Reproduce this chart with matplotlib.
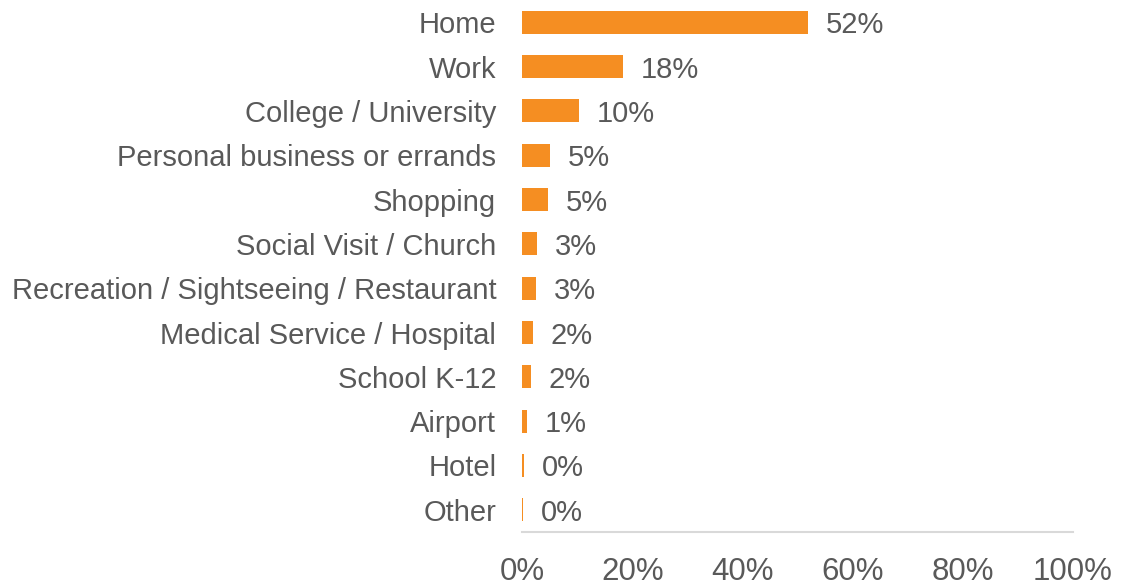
import matplotlib.pyplot as plt
from matplotlib.ticker import PercentFormatter

# trip destination shares (percent)
categories = ['Home', 'Work', 'College / University', 'Personal business or errands',
              'Shopping', 'Social Visit / Church', 'Recreation / Sightseeing / Restaurant',
              'Medical Service / Hospital', 'School K-12', 'Airport', 'Hotel', 'Other']
values = [51.9, 18.3, 10.3, 5.1, 4.7, 2.7, 2.6, 2.0, 1.6, 0.9, 0.4, 0.2]
labels = ['52%', '18%', '10%', '5%', '5%', '3%', '3%', '2%', '2%', '1%', '0%', '0%']

plt.rcParams['font.family'] = ['Liberation Sans', 'DejaVu Sans']
text_col = '#595959'
bar_col = '#F58E22'

fig = plt.figure(figsize=(11.23, 5.88), dpi=100)
ax = fig.add_axes([522 / 1123, 1 - 532 / 588, 551 / 1123, 532 / 588])

y = range(len(categories))
ax.barh(y, values, height=0.52, color=bar_col)
for yi, v, lab in zip(y, values, labels):
    ax.text(v + 3.2, yi, lab, va='center_baseline', ha='left', fontsize=21, color=text_col)

ax.set_xlim(0, 100)
ax.set_ylim(len(categories) - 0.5, -0.5)
ax.set_yticks(list(y))
ax.set_yticklabels(categories, va='center_baseline')
ax.set_xticks([0, 20, 40, 60, 80, 100])
ax.xaxis.set_major_formatter(PercentFormatter(decimals=0))
ax.tick_params(axis='y', length=0, pad=18.5, labelsize=21, labelcolor=text_col)
ax.tick_params(axis='x', length=0, pad=18, labelsize=22.5, labelcolor=text_col)

for s in ['top', 'right', 'left']:
    ax.spines[s].set_visible(False)
ax.spines['bottom'].set_color('#D9D9D9')
ax.spines['bottom'].set_linewidth(1.5)

fig.savefig('out.png', dpi=100)
